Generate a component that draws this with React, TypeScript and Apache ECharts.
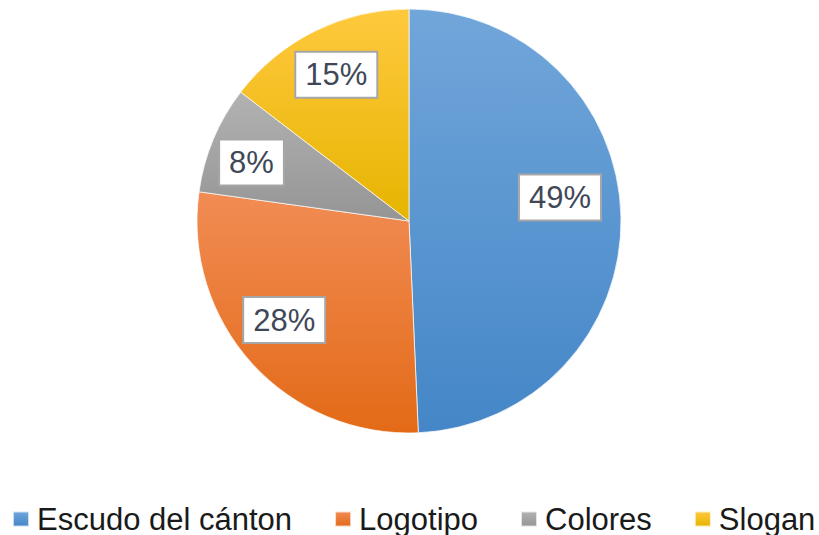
import React, { useEffect, useRef } from 'react';
import * as echarts from 'echarts';

const categories = ['Escudo del cánton', 'Logotipo', 'Colores', 'Slogan'];
const values = [49.3, 27.9, 8.2, 14.6];
const colorsTop = ['#71a6da', '#f18c54', '#b2b2b2', '#ffc93e'];
const colorsBottom = ['#4486c7', '#e36a17', '#959595', '#e6b400'];

export default function App() {
  const ref = useRef<HTMLDivElement>(null);
  useEffect(() => {
    const chart = echarts.init(ref.current as HTMLDivElement, null, { renderer: 'svg' });
    const grad = (i: number) =>
      new echarts.graphic.LinearGradient(0, 0, 0, 1, [
        { offset: 0, color: colorsTop[i] },
        { offset: 1, color: colorsBottom[i] },
      ]);
    const center = [409, 221];
    const R = 212;
    const nudge: Record<number, { dx: number; dy: number }> = {
      0: { dx: -11, dy: -20 },
      1: { dx: -5, dy: -10 },
      2: { dx: -8, dy: 4 },
      3: { dx: -1, dy: -1 },
    };
    chart.setOption({
      animation: false,
      legend: {
        top: 503,
        left: 12,
        width: 807,
        padding: 0,
        icon: 'rect',
        itemWidth: 16,
        itemHeight: 15,
        itemGap: 42,
        selectedMode: false,
        data: categories.map((name, i) => ({ name, itemStyle: { color: grad(i) } })),
        textStyle: {
          fontFamily: '"Liberation Sans", Arial, sans-serif',
          fontSize: 31,
          lineHeight: 32,
          color: '#1a1a1a',
          padding: [0, 0, 0, 3],
        },
      },
      series: [
        {
          type: 'pie',
          center,
          radius: R,
          startAngle: 90,
          clockwise: true,
          data: categories.map((name, i) => ({ name, value: values[i], itemStyle: { color: grad(i) } })),
          label: { show: false },
          labelLine: { show: false },
          itemStyle: { borderColor: 'rgba(255,255,255,0.7)', borderWidth: 1 },
          emphasis: { disabled: true },
          silent: true,
        },
        {
          type: 'pie',
          center,
          radius: [R / 2, R],
          startAngle: 90,
          clockwise: true,
          silent: true,
          percentPrecision: 0,
          data: categories.map((name, i) => ({ name, value: values[i] })),
          itemStyle: { color: 'rgba(0,0,0,0)', borderWidth: 0 },
          emphasis: { disabled: true },
          labelLine: { show: false },
          label: {
            show: true,
            position: 'inside',
            formatter: '{d}%',
            fontFamily: '"Liberation Sans", Arial, sans-serif',
            fontSize: 31,
            lineHeight: 32,
            color: '#404858',
            backgroundColor: '#ffffff',
            borderColor: '#a6a6a6',
            borderWidth: 2,
            padding: [6, 9],
          },
          labelLayout: (p: any) => nudge[p.dataIndex] || {},
        },
      ],
    });
    return () => chart.dispose();
  }, []);
  return (
    <div
      ref={ref}
      style={{ position: 'absolute', left: 0, top: 0, width: 819, height: 535, background: '#ffffff' }}
    />
  );
}
